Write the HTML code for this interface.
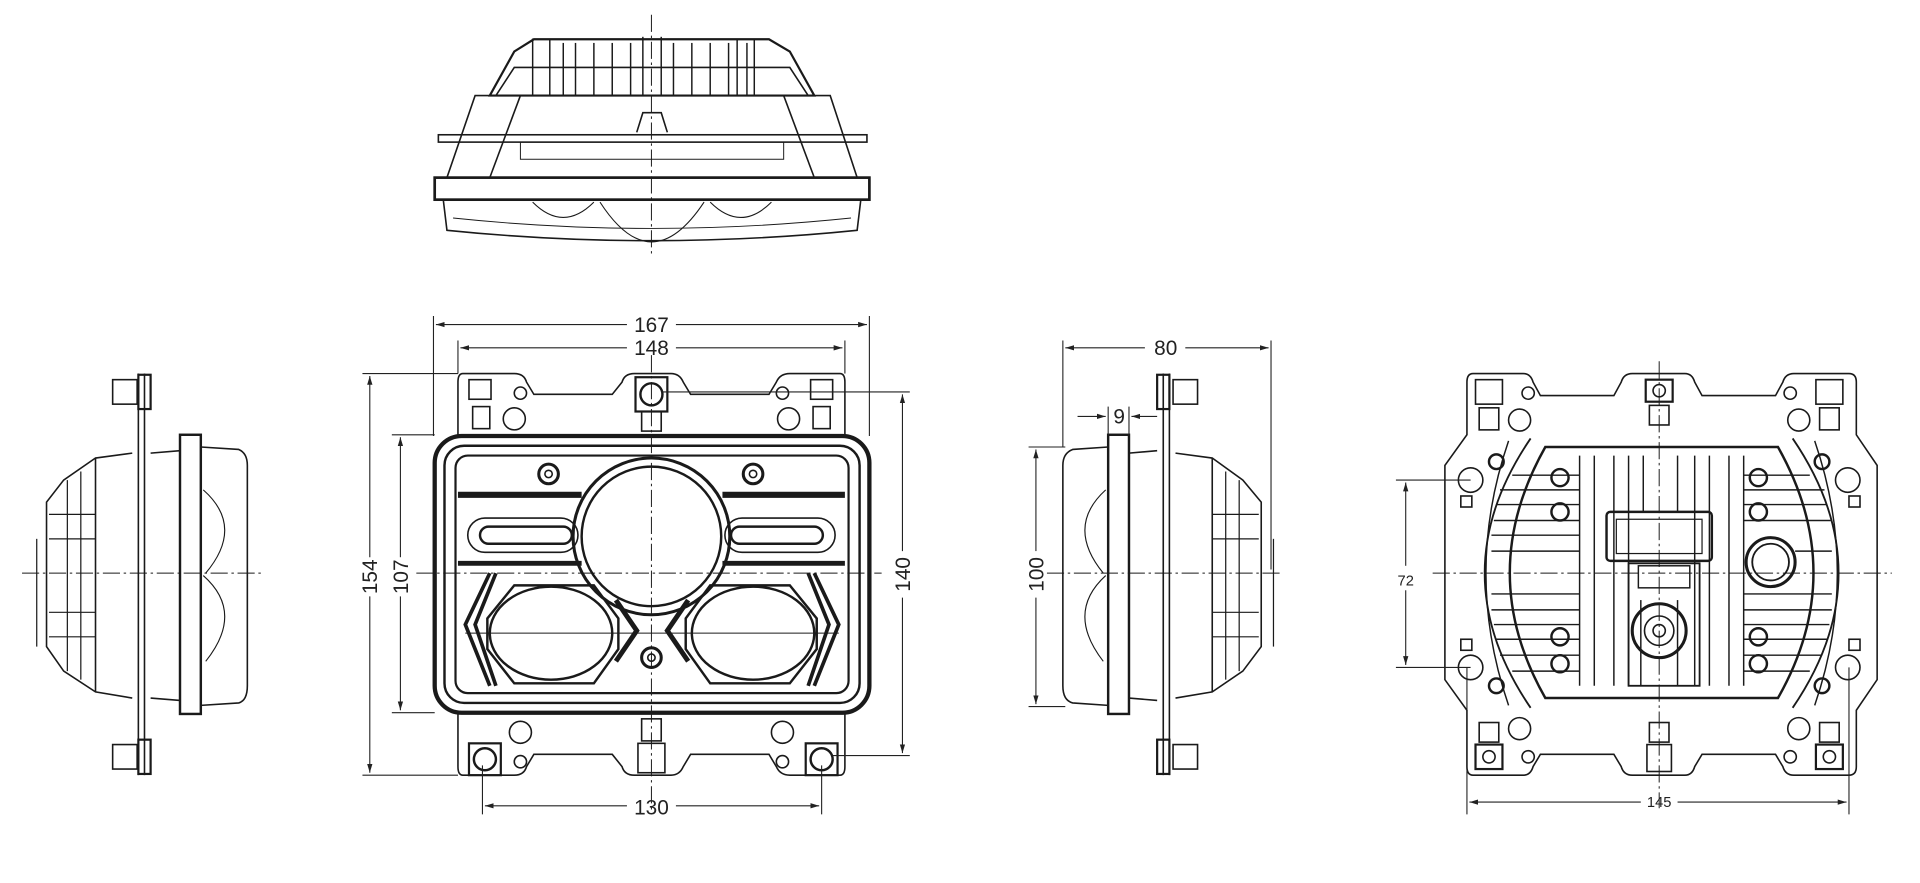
<!DOCTYPE html>
<html><head><meta charset="utf-8"><style>
html,body{margin:0;padding:0;background:#fff;width:1920px;height:883px;overflow:hidden}
svg{display:block}
text{font-family:"Liberation Sans",sans-serif;fill:#222}
</style></head><body>
<svg width="1920" height="883" viewBox="0 0 1568 721" xmlns="http://www.w3.org/2000/svg">
<defs>
<marker id="a" viewBox="0 0 10 10" refX="10" refY="5" markerWidth="8" markerHeight="8" orient="auto-start-reverse"><path d="M0,2 L10,5 L0,8 z" fill="#222"/></marker>
</defs>
<g fill="none" stroke="#1a1a1a" stroke-width="1.3">
<!-- TOP VIEW -->
<line x1="532" y1="12" x2="532" y2="210" stroke-dasharray="14,3,2,3" stroke-width="0.8"/>
<path d="M400,78 L420,42 L436,32 L628,32 L645,42 L665,78 Z" stroke-width="1.8"/>
<path d="M405,78 L420,55 L645,55 L660,78"/>
<g stroke-width="1.2">
<rect x="435" y="32" width="14" height="46"/><rect x="602" y="32" width="14" height="46"/>
<line x1="470" y1="35" x2="470" y2="78"/><line x1="485" y1="35" x2="485" y2="78"/><line x1="500" y1="35" x2="500" y2="78"/><line x1="515" y1="35" x2="515" y2="78"/><line x1="525" y1="30" x2="525" y2="78"/><line x1="540" y1="30" x2="540" y2="78"/><line x1="550" y1="35" x2="550" y2="78"/><line x1="565" y1="35" x2="565" y2="78"/><line x1="580" y1="35" x2="580" y2="78"/><line x1="595" y1="35" x2="595" y2="78"/>
<line x1="460" y1="35" x2="460" y2="78"/><line x1="610" y1="35" x2="610" y2="78"/>
</g>
<path d="M388,78 L678,78 L700,145 L365,145 Z"/>
<line x1="425" y1="78" x2="400" y2="145"/><line x1="640" y1="78" x2="665" y2="145"/>
<rect x="358" y="110" width="350" height="6"/>
<rect x="425" y="116" width="215" height="14" stroke-width="0.8"/>
<path d="M520,108 L525,92 L540,92 L545,108"/>
<rect x="355" y="145" width="355" height="18" stroke-width="2.2"/>
<path d="M362,163 L365,188 Q532,205 700,188 L703,163"/>
<path d="M370,178 Q532,195 695,178" stroke-width="0.8"/>
<path d="M435,165 Q460,190 485,165 M490,165 Q532,230 575,165 M580,165 Q605,190 630,165" stroke-width="0.9"/>

<!-- LEFT SIDE VIEW -->
<line x1="18" y1="468" x2="215" y2="468" stroke-dasharray="14,3,2,3" stroke-width="0.8"/>
<line x1="113" y1="305" x2="113" y2="633"/><line x1="118" y1="305" x2="118" y2="633"/>
<rect x="92" y="310" width="20" height="20"/><rect x="113" y="306" width="10" height="28" stroke-width="1.8"/>
<rect x="92" y="608" width="20" height="20"/><rect x="113" y="604" width="10" height="28" stroke-width="1.8"/>
<path d="M108,370 L78,374 L52,392 L38,410 L38,528 L52,548 L78,565 L108,570"/>
<line x1="78" y1="374" x2="78" y2="565"/>
<g stroke-width="1"><line x1="40" y1="420" x2="78" y2="420"/><line x1="40" y1="440" x2="78" y2="440"/><line x1="40" y1="500" x2="78" y2="500"/><line x1="40" y1="520" x2="78" y2="520"/><line x1="30" y1="440" x2="30" y2="528"/><line x1="55" y1="392" x2="55" y2="548"/><line x1="66" y1="385" x2="66" y2="555"/></g>
<path d="M123,370 L147,368 M123,570 L147,572"/>
<rect x="147" y="355" width="17" height="228" stroke-width="2"/>
<path d="M164,365 L195,367 Q202,370 202,380 L202,560 Q202,572 195,574 L164,576"/>
<path d="M166,400 Q200,430 168,468 M166,470 Q200,500 168,540" stroke-width="0.9"/>

<!-- FRONT VIEW -->
<path d="M378,305 L420,305 Q428,305 430,312 L436,322 L500,322 L508,312 Q510,305 518,305 L548,305 Q555,305 558,312 L564,322 L628,322 L634,312 Q637,305 645,305 L686,305 Q690,305 690,312 L690,355 L374,355 L374,312 Q374,305 378,305 Z"/>
<path d="M374,582 L690,582 L690,626 Q690,633 686,633 L645,633 Q637,633 634,626 L628,616 L564,616 L558,626 Q555,633 548,633 L518,633 Q510,633 508,626 L500,616 L436,616 L430,626 Q428,633 420,633 L378,633 Q374,633 374,626 Z"/>
<rect x="383" y="310" width="18" height="16"/><rect x="386" y="332" width="14" height="18"/>
<rect x="662" y="310" width="18" height="16"/><rect x="664" y="332" width="14" height="18"/>
<circle cx="425" cy="321" r="5"/><circle cx="639" cy="321" r="5"/>
<circle cx="420" cy="342" r="9"/><circle cx="644" cy="342" r="9"/>
<rect x="519" y="308" width="26" height="28" stroke-width="1.8"/><circle cx="532" cy="322" r="9" stroke-width="2"/>
<rect x="524" y="336" width="16" height="16"/>
<circle cx="425" cy="598" r="9"/><circle cx="639" cy="598" r="9"/><circle cx="425" cy="622" r="5"/><circle cx="639" cy="622" r="5"/>
<rect x="524" y="587" width="16" height="18"/><rect x="521" y="607" width="22" height="24"/>
<rect x="383" y="607" width="26" height="26" stroke-width="1.8"/><circle cx="396" cy="620" r="9" stroke-width="2"/>
<rect x="658" y="607" width="26" height="26" stroke-width="1.8"/><circle cx="671" cy="620" r="9" stroke-width="2"/>
<rect x="355" y="356" width="355" height="226" rx="22" stroke-width="3.5"/>
<rect x="363" y="364" width="339" height="210" rx="16" stroke-width="2"/>
<rect x="372" y="372" width="321" height="194" rx="10" stroke-width="1.8"/>
<path d="M374,404 L475,404 M590,404 L690,404" stroke-width="5"/>
<path d="M374,460 L475,460 M590,460 L690,460" stroke-width="4"/>
<rect x="382" y="423" width="90" height="28" rx="14"/><rect x="392" y="430" width="75" height="14" rx="7" stroke-width="2"/>
<rect x="592" y="423" width="90" height="28" rx="14"/><rect x="597" y="430" width="75" height="14" rx="7" stroke-width="2"/>
<circle cx="448" cy="387" r="8" stroke-width="2.5"/><circle cx="448" cy="387" r="3"/>
<circle cx="615" cy="387" r="8" stroke-width="2.5"/><circle cx="615" cy="387" r="3"/>
<circle cx="532" cy="537" r="8" stroke-width="2.5"/><circle cx="532" cy="537" r="3"/>
<circle cx="532" cy="438" r="64" stroke-width="2.5"/><circle cx="532" cy="438" r="57" stroke-width="2"/>
<path d="M400,468 L380,510 L400,560 M405,468 L388,510 L405,560" stroke-width="3"/>
<path d="M665,468 L685,510 L665,560 M660,468 L677,510 L660,560" stroke-width="3"/>
<path d="M503,490 L520,515 L503,540 M562,490 L545,515 L562,540" stroke-width="4"/>
<path d="M420,478 L485,478 L505,505 L505,530 L485,558 L420,558 L398,530 L398,505 Z" stroke-width="2"/>
<ellipse cx="450" cy="517" rx="50" ry="38" stroke-width="2"/>
<path d="M580,478 L645,478 L667,505 L667,530 L645,558 L580,558 L560,530 L560,505 Z" stroke-width="2"/>
<ellipse cx="615" cy="517" rx="50" ry="38" stroke-width="2"/>
<line x1="380" y1="517" x2="685" y2="517" stroke-width="0.8"/>
<line x1="532" y1="290" x2="532" y2="665" stroke-dasharray="14,3,2,3" stroke-width="0.8"/>
<line x1="340" y1="468" x2="720" y2="468" stroke-dasharray="14,3,2,3" stroke-width="0.8"/>

<!-- RIGHT SIDE VIEW -->
<line x1="855" y1="468" x2="1048" y2="468" stroke-dasharray="14,3,2,3" stroke-width="0.8"/>
<line x1="950" y1="305" x2="950" y2="633"/><line x1="955" y1="305" x2="955" y2="633"/>
<rect x="958" y="310" width="20" height="20"/><rect x="945" y="306" width="10" height="28" stroke-width="1.8"/>
<rect x="958" y="608" width="20" height="20"/><rect x="945" y="604" width="10" height="28" stroke-width="1.8"/>
<rect x="905" y="355" width="17" height="228" stroke-width="2"/>
<path d="M905,365 L876,367 Q868,370 868,380 L868,560 Q868,572 876,574 L905,576"/>
<path d="M903,400 Q870,430 901,468 M903,470 Q870,500 901,540" stroke-width="0.9"/>
<path d="M922,370 L945,368 M922,570 L945,572"/>
<path d="M960,370 L990,374 L1015,392 L1030,410 L1030,528 L1015,548 L990,565 L960,570"/>
<line x1="990" y1="374" x2="990" y2="565"/>
<g stroke-width="1"><line x1="990" y1="420" x2="1028" y2="420"/><line x1="990" y1="440" x2="1028" y2="440"/><line x1="990" y1="500" x2="1028" y2="500"/><line x1="990" y1="520" x2="1028" y2="520"/><line x1="1040" y1="440" x2="1040" y2="528"/><line x1="1012" y1="392" x2="1012" y2="548"/><line x1="1001" y1="385" x2="1001" y2="555"/></g>

<!-- REAR VIEW -->
<path d="M1203,305 L1244,305 Q1250,305 1252,312 L1258,323 L1318,323 L1324,312 Q1326,305 1333,305 L1376,305 Q1382,305 1384,312 L1390,323 L1450,323 L1456,312 Q1458,305 1465,305 L1510,305 Q1516,305 1516,312 L1516,355 L1533,380 L1533,555 L1516,580 L1516,626 Q1516,633 1510,633 L1465,633 Q1458,633 1456,626 L1450,616 L1390,616 L1384,626 Q1382,633 1376,633 L1333,633 Q1326,633 1324,626 L1318,616 L1258,616 L1252,626 Q1250,633 1244,633 L1203,633 Q1198,633 1198,626 L1198,580 L1180,555 L1180,380 L1198,355 L1198,312 Q1198,305 1203,305 Z"/>
<path d="M1250,358 Q1175,468 1250,578 M1464,358 Q1539,468 1464,578" stroke-width="1.5"/>
<path d="M1232,360 Q1195,468 1232,576 M1482,360 Q1519,468 1482,576" stroke-width="1.2"/>
<path d="M1262,365 L1452,365 Q1510,468 1452,570 L1262,570 Q1204,468 1262,365 Z" stroke-width="2"/>
<g stroke-width="1.2">
<line x1="1290" y1="372" x2="1290" y2="560"/><line x1="1302" y1="372" x2="1302" y2="560"/><line x1="1318" y1="372" x2="1318" y2="560"/><line x1="1330" y1="372" x2="1330" y2="560"/><line x1="1384" y1="372" x2="1384" y2="560"/><line x1="1396" y1="372" x2="1396" y2="560"/><line x1="1412" y1="372" x2="1412" y2="560"/><line x1="1424" y1="372" x2="1424" y2="560"/>
<line x1="1342" y1="372" x2="1342" y2="418"/><line x1="1370" y1="372" x2="1370" y2="418"/>
<line x1="1235" y1="388" x2="1290" y2="388"/><line x1="1225" y1="400" x2="1290" y2="400"/><line x1="1222" y1="412" x2="1290" y2="412"/><line x1="1220" y1="425" x2="1290" y2="425"/><line x1="1218" y1="437" x2="1290" y2="437"/><line x1="1218" y1="450" x2="1290" y2="450"/><line x1="1218" y1="485" x2="1290" y2="485"/><line x1="1218" y1="498" x2="1290" y2="498"/><line x1="1220" y1="510" x2="1290" y2="510"/><line x1="1222" y1="522" x2="1290" y2="522"/><line x1="1225" y1="535" x2="1290" y2="535"/><line x1="1235" y1="548" x2="1290" y2="548"/>
<line x1="1424" y1="388" x2="1478" y2="388"/><line x1="1424" y1="400" x2="1490" y2="400"/><line x1="1424" y1="412" x2="1492" y2="412"/><line x1="1424" y1="425" x2="1495" y2="425"/><line x1="1466" y1="450" x2="1496" y2="450"/><line x1="1424" y1="485" x2="1496" y2="485"/><line x1="1424" y1="498" x2="1496" y2="498"/><line x1="1424" y1="510" x2="1494" y2="510"/><line x1="1424" y1="522" x2="1492" y2="522"/><line x1="1424" y1="535" x2="1488" y2="535"/><line x1="1424" y1="548" x2="1478" y2="548"/>
<line x1="1340" y1="490" x2="1340" y2="560"/><line x1="1370" y1="490" x2="1370" y2="560"/>
</g>
<rect x="1312" y="418" width="86" height="40" rx="3" stroke-width="2"/>
<rect x="1320" y="424" width="70" height="28" stroke-width="1"/>
<rect x="1330" y="460" width="58" height="100" stroke-width="1.5"/>
<rect x="1338" y="462" width="42" height="18" stroke-width="1.2"/>
<circle cx="1355" cy="515" r="22" stroke-width="2.5"/><circle cx="1355" cy="515" r="12"/><circle cx="1355" cy="515" r="5"/>
<circle cx="1446" cy="459" r="20" stroke-width="2.5"/><circle cx="1446" cy="459" r="15" stroke-width="1.5"/>
<g stroke-width="2"><circle cx="1274" cy="390" r="7"/><circle cx="1274" cy="418" r="7"/><circle cx="1274" cy="520" r="7"/><circle cx="1274" cy="542" r="7"/><circle cx="1436" cy="390" r="7"/><circle cx="1436" cy="418" r="7"/><circle cx="1436" cy="520" r="7"/><circle cx="1436" cy="542" r="7"/><circle cx="1222" cy="377" r="6"/><circle cx="1488" cy="377" r="6"/><circle cx="1222" cy="560" r="6"/><circle cx="1488" cy="560" r="6"/></g>
<circle cx="1201" cy="392" r="10"/><circle cx="1509" cy="392" r="10"/><circle cx="1201" cy="545" r="10"/><circle cx="1509" cy="545" r="10"/>
<rect x="1193" y="405" width="9" height="9"/><rect x="1510" y="405" width="9" height="9"/><rect x="1193" y="522" width="9" height="9"/><rect x="1510" y="522" width="9" height="9"/>
<rect x="1205" y="310" width="22" height="20"/><rect x="1208" y="333" width="16" height="18"/><rect x="1483" y="310" width="22" height="20"/><rect x="1486" y="333" width="16" height="18"/>
<circle cx="1248" cy="321" r="5"/><circle cx="1462" cy="321" r="5"/><circle cx="1241" cy="343" r="9"/><circle cx="1469" cy="343" r="9"/>
<rect x="1344" y="310" width="22" height="18" stroke-width="1.8"/><circle cx="1355" cy="319" r="5"/><rect x="1347" y="331" width="16" height="16"/>
<rect x="1208" y="590" width="16" height="16"/><rect x="1205" y="608" width="22" height="20" stroke-width="1.8"/><circle cx="1216" cy="618" r="5"/>
<rect x="1486" y="590" width="16" height="16"/><rect x="1483" y="608" width="22" height="20" stroke-width="1.8"/><circle cx="1494" cy="618" r="5"/>
<rect x="1347" y="590" width="16" height="16"/><rect x="1345" y="608" width="20" height="22"/>
<circle cx="1241" cy="595" r="9"/><circle cx="1469" cy="595" r="9"/><circle cx="1248" cy="618" r="5"/><circle cx="1462" cy="618" r="5"/>
<line x1="1355" y1="295" x2="1355" y2="660" stroke-dasharray="14,3,2,3" stroke-width="0.8"/>
<line x1="1170" y1="468" x2="1545" y2="468" stroke-dasharray="14,3,2,3" stroke-width="0.8"/>
</g>

<!-- DIMENSIONS -->
<g stroke="#222" stroke-width="0.9" fill="none">
<line x1="354" y1="258" x2="354" y2="356"/><line x1="710" y1="258" x2="710" y2="356"/>
<line x1="356" y1="265" x2="512" y2="265" marker-start="url(#a)"/><line x1="552" y1="265" x2="708" y2="265" marker-end="url(#a)"/>
<line x1="374" y1="278" x2="374" y2="305"/><line x1="690" y1="278" x2="690" y2="305"/>
<line x1="376" y1="284" x2="512" y2="284" marker-start="url(#a)"/><line x1="552" y1="284" x2="688" y2="284" marker-end="url(#a)"/>
<line x1="296" y1="305" x2="374" y2="305"/><line x1="296" y1="633" x2="374" y2="633"/>
<line x1="302" y1="307" x2="302" y2="455" marker-start="url(#a)"/><line x1="302" y1="487" x2="302" y2="631" marker-end="url(#a)"/>
<line x1="320" y1="355" x2="355" y2="355"/><line x1="320" y1="582" x2="355" y2="582"/>
<line x1="327" y1="357" x2="327" y2="455" marker-start="url(#a)"/><line x1="327" y1="487" x2="327" y2="580" marker-end="url(#a)"/>
<line x1="540" y1="320" x2="743" y2="320"/><line x1="680" y1="617" x2="743" y2="617"/>
<line x1="737" y1="322" x2="737" y2="450" marker-start="url(#a)"/><line x1="737" y1="488" x2="737" y2="615" marker-end="url(#a)"/>
<line x1="394" y1="625" x2="394" y2="665"/><line x1="671" y1="625" x2="671" y2="665"/>
<line x1="396" y1="658" x2="512" y2="658" marker-start="url(#a)"/><line x1="552" y1="658" x2="669" y2="658" marker-end="url(#a)"/>
<line x1="868" y1="278" x2="868" y2="365"/><line x1="1038" y1="278" x2="1038" y2="465"/>
<line x1="870" y1="284" x2="935" y2="284" marker-start="url(#a)"/><line x1="968" y1="284" x2="1036" y2="284" marker-end="url(#a)"/>
<line x1="905" y1="332" x2="905" y2="355"/><line x1="922" y1="332" x2="922" y2="355"/>
<line x1="880" y1="340" x2="903" y2="340" marker-end="url(#a)"/><line x1="945" y1="340" x2="924" y2="340" marker-end="url(#a)"/>
<line x1="840" y1="365" x2="870" y2="365"/><line x1="840" y1="577" x2="870" y2="577"/>
<line x1="846" y1="367" x2="846" y2="450" marker-start="url(#a)"/><line x1="846" y1="488" x2="846" y2="575" marker-end="url(#a)"/>
<line x1="1140" y1="392" x2="1201" y2="392"/><line x1="1140" y1="545" x2="1201" y2="545"/>
<line x1="1148" y1="394" x2="1148" y2="462" marker-start="url(#a)"/><line x1="1148" y1="482" x2="1148" y2="543" marker-end="url(#a)"/>
<line x1="1198" y1="545" x2="1198" y2="665"/><line x1="1510" y1="545" x2="1510" y2="665"/>
<line x1="1200" y1="655" x2="1340" y2="655" marker-start="url(#a)"/><line x1="1370" y1="655" x2="1508" y2="655" marker-end="url(#a)"/>
</g>
<g font-size="17">
<text x="532" y="271" text-anchor="middle">167</text>
<text x="532" y="290" text-anchor="middle">148</text>
<text x="532" y="665" text-anchor="middle">130</text>
<text x="952" y="290" text-anchor="middle">80</text>
<text x="914" y="346" text-anchor="middle">9</text>
<text transform="translate(308,471) rotate(-90)" text-anchor="middle">154</text>
<text transform="translate(333,471) rotate(-90)" text-anchor="middle">107</text>
<text transform="translate(743,469) rotate(-90)" text-anchor="middle">140</text>
<text transform="translate(852,469) rotate(-90)" text-anchor="middle">100</text>
</g>
<g font-size="12">
<text x="1148" y="478" text-anchor="middle">72</text>
<text x="1355" y="659" text-anchor="middle">145</text>
</g>
</svg>
</body></html>
